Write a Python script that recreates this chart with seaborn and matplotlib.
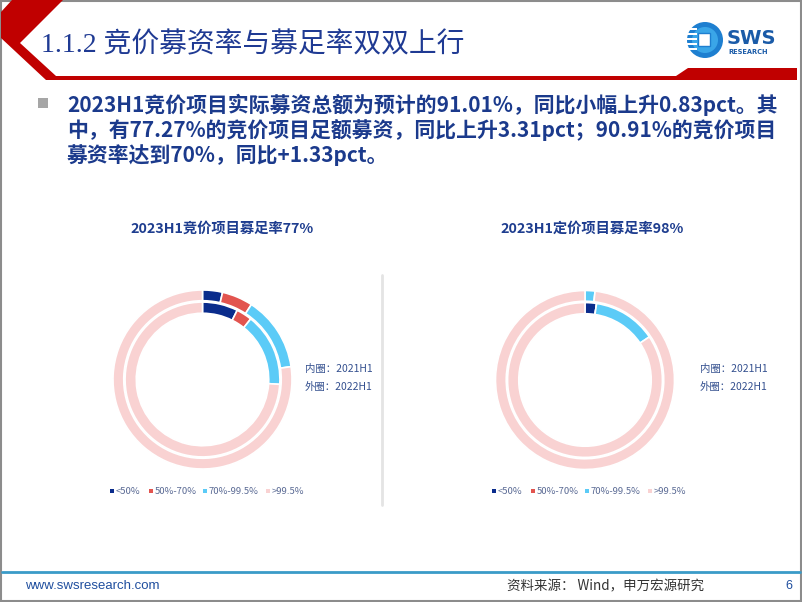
import matplotlib
matplotlib.use("Agg")
import matplotlib.pyplot as plt
from matplotlib.patches import Polygon, Rectangle, Circle
import seaborn as sns

# ---- data ----
categories = ['<50%', '50%-70%', '70%-99.5%', '>99.5%']
bid_2021 = [7.4, 3.3, 15.3, 74.0]      # inner ring, 竞价
bid_2022 = [3.6, 5.6, 13.5, 77.3]      # outer ring, 竞价
fixed_2021 = [2.4, 0.0, 13.2, 84.4]    # inner ring, 定价
fixed_2022 = [0.0, 0.0, 1.8, 98.2]     # outer ring, 定价
chart_titles = ['2023H1竞价项目募足率77%', '2023H1定价项目募足率98%']
ring_labels = ['内圈：2021H1', '外圈：2022H1']

sns.set_theme(style='white')
plt.rcParams['font.family'] = ['Noto Sans CJK SC', 'DejaVu Sans']
pal = sns.color_palette(['#0A2C8C', '#E2544F', '#5BCBF7', '#F9D2D2'])

W, H = 802, 602
fig = plt.figure(figsize=(W / 100, H / 100), dpi=100)
bg = fig.add_axes([0, 0, 1, 1])
bg.set_xlim(0, W)
bg.set_ylim(H, 0)
bg.axis('off')

# frame
bg.add_patch(Rectangle((0.8, 0.8), W - 1.6, H - 1.6, fill=False, ec='#8C8C8C', lw=1.5))

# header red shape
red = '#C00000'
bg.add_patch(Polygon([(12, 0), (63, 0), (20, 43), (56, 76), (676, 76), (688, 68),
                      (797, 68), (797, 80), (46, 80), (1, 38), (1, 12)],
                     closed=True, fc=red, ec='none'))
bg.text(41, 45, '1.1.2 竞价募资率与募足率双双上行', fontsize=20, color='#1F3A93',
        family=['Liberation Serif', 'Noto Sans CJK SC'], va='center', ha='left')

# logo
bg.add_patch(Circle((705, 40), 18, fc='#1E7FD0', ec='none'))
bg.add_patch(Circle((705, 40), 13, fc='#3AA6E8', ec='none'))
for yy in [28, 33, 38, 43, 48]:
    bg.add_patch(Rectangle((687, yy), 10, 2.2, fc='white', ec='none'))
bg.add_patch(Rectangle((698, 33), 12, 13, fc='white', ec='#1E7FD0', lw=1))
bg.text(727, 38, 'SWS', fontsize=14, weight='bold', color='#1A5BA8',
        family='DejaVu Sans', va='center', ha='left')
bg.text(728, 51.5, 'RESEARCH', fontsize=4.8, weight='bold', color='#1A5BA8',
        family='DejaVu Sans', va='center', ha='left')

# bullet text
bg.add_patch(Rectangle((38, 98), 10, 10, fc='#A6A6A6', ec='none'))
lines = ['2023H1竞价项目实际募资总额为预计的91.01%，同比小幅上升0.83pct。其',
         '中，有77.27%的竞价项目足额募资，同比上升3.31pct；90.91%的竞价项目',
         '募资率达到70%，同比+1.33pct。']
for i, ln in enumerate(lines):
    bg.text(67, 105 + 25 * i, ln, fontsize=15, weight='bold', color='#1B3A8C',
            va='center', ha='left')

# separator
bg.plot([382, 382], [275, 505], color='#E4E4E4', lw=2)

# donuts
centers = [(202.5, 379.5), (585, 380)]
title_x = [222, 592]
label_x = [305, 700]
data = [(bid_2021, bid_2022), (fixed_2021, fixed_2022)]
R = 89.5
for k, (cx, cy) in enumerate(centers):
    ax = fig.add_axes([(cx - R) / W, 1 - (cy + R) / H, 2 * R / W, 2 * R / H])
    inner, outer = data[k]
    ax.pie(outer, radius=1.0, colors=pal, startangle=90, counterclock=False,
           wedgeprops=dict(width=0.12, edgecolor='white', linewidth=1.2))
    ax.pie(inner, radius=0.865, colors=pal, startangle=90, counterclock=False,
           wedgeprops=dict(width=0.125, edgecolor='white', linewidth=1.2))
    ax.set_xlim(-1, 1)
    ax.set_ylim(-1, 1)
    ax.set_aspect('equal')
    ax.axis('off')

    bg.text(title_x[k], 229, chart_titles[k], fontsize=10.3, weight='bold',
            color='#1E3D8F', ha='center', va='center')
    for j, lab in enumerate(ring_labels):
        bg.text(label_x[k], 369 + 18 * j, lab, fontsize=7.5, color='#34508F',
                ha='left', va='center')
    # legend
    offs = [-91, -52, 2, 65]
    for j, cat in enumerate(categories):
        bg.scatter([cx + offs[j]], [491], marker='s', s=7, color=pal[j], linewidths=0)
        bg.text(cx + offs[j] + 4, 491, cat, fontsize=6.8, color='#5A6A94',
                ha='left', va='center')

# footer
bg.plot([2, W - 2], [572, 572], color='#3A9BC8', lw=2)
bg.text(25, 586, 'www.swsresearch.com', fontsize=9.5, color='#1F4E9E',
        family='Liberation Sans', ha='left', va='center')
bg.text(507, 586, '资料来源： Wind，申万宏源研究', fontsize=9.7, color='#333333',
        ha='left', va='center')
bg.text(789, 586, '6', fontsize=9, color='#1F4E9E', family='Liberation Sans',
        ha='center', va='center')

fig.savefig('out.png', dpi=100)
